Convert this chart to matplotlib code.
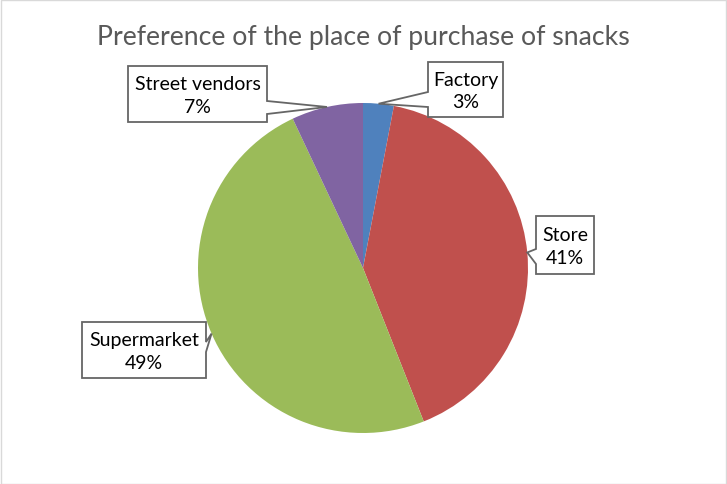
import numpy as np
import matplotlib
matplotlib.use('Agg')
import matplotlib.pyplot as plt
from matplotlib.patches import Polygon, Rectangle

plt.rcParams['font.family'] = ['Lato', 'DejaVu Sans']

# data
labels = ['Factory', 'Store', 'Supermarket', 'Street vendors']
shares = [3, 41, 49, 7]
colors = ['#4F81BD', '#C0504D', '#9BBB59', '#8064A2']
title = 'Preference of the place of purchase of snacks'

# layout in pixels (y measured from top)
W, H = 727, 485
cx, cy, R = 363, 269, 165
boxes = {
    'Factory': ((428, 63, 503, 118), 'left', (93, 108)),
    'Store': ((536, 217, 594, 275), 'left', (250, 265)),
    'Supermarket': ((82, 323, 206, 379), 'right', (343, 353)),
    'Street vendors': ((128, 67, 267, 123), 'right', (102, 115)),
}

fig = plt.figure(figsize=(W / 100, H / 100), dpi=100)
ax = fig.add_axes([0, 0, 1, 1])

wedges, _ = ax.pie(shares, colors=colors, startangle=90, counterclock=False,
                   center=(cx, H - cy), radius=R,
                   wedgeprops=dict(linewidth=0))
ax.set_xlim(0, W)
ax.set_ylim(0, H)
ax.set_aspect('equal')
ax.axis('off')


def callout(lab, pct, tip):
    (x0, y0, x1, y1), side, (b0, b1) = boxes[lab]
    if side == 'right':
        pts = [(x0, y0), (x1, y0), (x1, b0), tip, (x1, b1), (x1, y1), (x0, y1)]
    else:
        pts = [(x0, y0), (x1, y0), (x1, y1), (x0, y1), (x0, b1), tip, (x0, b0)]
    pts = [(px, H - py) for px, py in pts]
    ax.add_patch(Polygon(pts, closed=True, facecolor='white', edgecolor='#666666',
                         linewidth=1.3, zorder=5))
    ax.text((x0 + x1) / 2, H - (y0 + y1) / 2 - 1, f'{lab}\n{pct}%', ha='center', va='center',
            fontsize=14, color='black', linespacing=1.4, zorder=6)


# pointer tip at the middle of each slice's rim
for w, lab, pct in zip(wedges, labels, shares):
    mid = np.deg2rad((w.theta1 + w.theta2) / 2)
    tip = (cx + R * np.cos(mid), cy - R * np.sin(mid))
    callout(lab, pct, tip)

fig.text(0.5, 1 - 37 / H, title, ha='center', va='center', fontsize=19.2, color='#595959')

fig.patches.append(Rectangle((0.5 / W, 0.5 / H), 1 - 1.5 / W, 1 - 1.5 / H, transform=fig.transFigure,
                             fill=False, edgecolor='#D9D9D9', linewidth=1))

fig.savefig('out.png', dpi=100)
